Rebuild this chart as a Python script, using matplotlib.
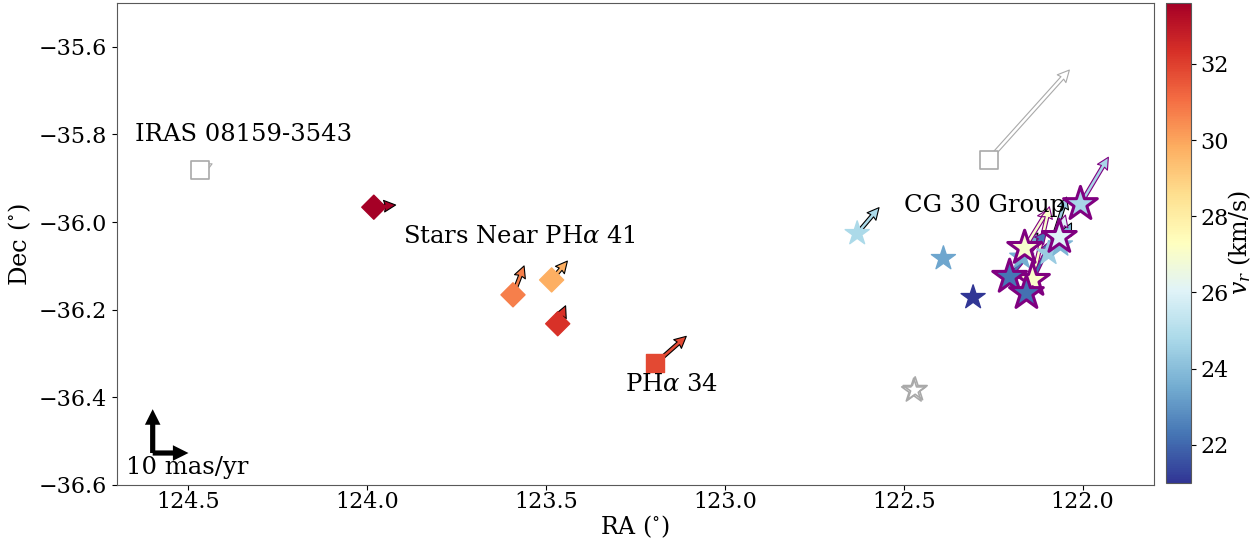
import matplotlib
matplotlib.use("Agg")
import matplotlib.pyplot as plt
import numpy as np

plt.rcParams['font.family'] = 'DejaVu Serif'
plt.rcParams['mathtext.fontset'] = 'dejavuserif'
plt.rcParams['font.size'] = 16

# Stars near PHa 41 (diamonds)
near_ra = [123.981, 123.592, 123.484, 123.467]
near_dec = [-35.966, -36.166, -36.132, -36.232]
near_vr = [33.6, 30.7, 29.8, 32.3]
near_pmra = [-6.1, -3.1, -4.4, -2.2]
near_pmdec = [0.5, 6.6, 4.3, 4.1]

# PHa 34 (square)
pha_ra = [123.196]
pha_dec = [-36.322]
pha_vr = [31.8]
pha_pmra = [-8.6]
pha_pmdec = [6.2]

# CG 30 group, plain stars
cg_ra = [122.630, 122.389, 122.306, 122.170, 122.095, 122.062]
cg_dec = [-36.026, -36.083, -36.172, -36.080, -36.071, -36.052]
cg_vr = [24.8, 23.4, 21.0, 23.6, 24.4, 23.8]
cg_pmra = [-6.1, np.nan, np.nan, -4.5, -5.0, -3.1]
cg_pmdec = [5.9, np.nan, np.nan, 5.5, 12.8, 5.0]

# CG 30 group, outlined stars
cgo_ra = [122.006, 122.065, 122.162, 122.140, 122.204, 122.157]
cgo_dec = [-35.959, -36.034, -36.059, -36.132, -36.125, -36.162]
cgo_vr = [24.7, 26.0, 27.0, 27.1, 22.3, 22.2]
cgo_pmra = [-7.8, -1.7, -6.7, -4.7, -10.3, -7.0]
cgo_pmdec = [10.7, 5.0, 8.9, 16.7, 10.3, 12.1]

# sources without radial velocity (open grey symbols)
nov_sq_ra = [124.467, 122.263]
nov_sq_dec = [-35.881, -35.858]
nov_sq_pmra = [-3.4, -22.6]
nov_sq_pmdec = [1.4, 20.5]
nov_st_ra = [122.472, 122.468]
nov_st_dec = [-36.385, -36.382]

labels = ["IRAS 08159-3543", "Stars Near PH$\\alpha$ 41", "PH$\\alpha$ 34", "CG 30 Group"]
label_ra = [124.648, 123.900, 123.280, 122.500]
label_dec = [-35.801, -36.032, -36.370, -35.963]

vmin = min(near_vr + pha_vr + cg_vr + cgo_vr)
vmax = max(near_vr + pha_vr + cg_vr + cgo_vr)
cmap = plt.get_cmap('RdYlBu_r')
norm = matplotlib.colors.Normalize(vmin=vmin, vmax=vmax)

fig = plt.figure(figsize=(12.6, 5.39), dpi=100)
ax = fig.add_axes([0.0925, 0.1002, 0.8235, 0.8942])
cax = fig.add_axes([0.9254, 0.1040, 0.0198, 0.8904])

qkw = dict(angles='xy', scale_units='xy', scale=100, width=0.0035,
           headwidth=3.2, headlength=3.2, headaxislength=2.9, linewidth=0.8)

# proper motion arrows
ax.quiver(nov_sq_ra, nov_sq_dec, nov_sq_pmra, nov_sq_pmdec, color='white',
          edgecolor='darkgray', zorder=2, **qkw)
ax.quiver(near_ra, near_dec, near_pmra, near_pmdec, near_vr, cmap=cmap, norm=norm,
          edgecolor='black', zorder=2, **qkw)
ax.quiver(pha_ra, pha_dec, pha_pmra, pha_pmdec, pha_vr, cmap=cmap, norm=norm,
          edgecolor='black', zorder=2, **qkw)
ax.quiver(cg_ra, cg_dec, cg_pmra, cg_pmdec, cg_vr, cmap=cmap, norm=norm,
          edgecolor='black', zorder=2, **qkw)
ax.quiver(cgo_ra, cgo_dec, cgo_pmra, cgo_pmdec, cgo_vr, cmap=cmap, norm=norm,
          edgecolor='purple', zorder=2, **qkw)

# markers
ax.scatter(nov_sq_ra, nov_sq_dec, marker='s', s=170, facecolor='white',
           edgecolor='darkgray', linewidth=1.2, zorder=3)
ax.scatter(nov_st_ra, nov_st_dec, marker='*', s=330, facecolor='none',
           edgecolor='darkgray', linewidth=1.2, zorder=3)
ax.scatter(near_ra, near_dec, c=near_vr, cmap=cmap, norm=norm, marker='D', s=150, zorder=3)
ax.scatter(pha_ra, pha_dec, c=pha_vr, cmap=cmap, norm=norm, marker='s', s=150, zorder=3)
ax.scatter(cg_ra, cg_dec, c=cg_vr, cmap=cmap, norm=norm, marker='*', s=330, zorder=3)
sc = ax.scatter(cgo_ra, cgo_dec, c=cgo_vr, cmap=cmap, norm=norm, marker='*', s=650,
                edgecolor='purple', linewidth=2.2, zorder=3)

# 10 mas/yr scale bar
ax.quiver([124.599, 124.599], [-36.527, -36.527], [-10, 0], [0, 10], color='black',
          angles='xy', scale_units='xy', scale=100, width=0.005,
          headwidth=3, headlength=3, headaxislength=3, zorder=4)
ax.text(124.673, -36.559, "10 mas/yr", ha='left', va='center', fontsize=17.5)

for t, x, y in zip(labels, label_ra, label_dec):
    ax.text(x, y, t, ha='left', va='center', fontsize=17.5, zorder=5)

ax.set_xlim(124.7, 121.8)
ax.set_ylim(-36.6, -35.5)
ax.set_xticks([124.5, 124.0, 123.5, 123.0, 122.5, 122.0])
ax.set_yticks([-35.6, -35.8, -36.0, -36.2, -36.4, -36.6])
ax.tick_params(axis='x', pad=1)
ax.set_xlabel("RA ($^{\\circ}$)", fontsize=17, labelpad=0)
ax.set_ylabel("Dec ($^{\\circ}$)", fontsize=17.5)
for s in ax.spines.values():
    s.set_color('0.35')

cb = fig.colorbar(sc, cax=cax)
cb.set_ticks([22, 24, 26, 28, 30, 32])
cb.set_label("$v_r$ (km/s)", fontsize=17, labelpad=-2)
cb.outline.set_edgecolor('0.35')

fig.savefig("out.png", dpi=100)
